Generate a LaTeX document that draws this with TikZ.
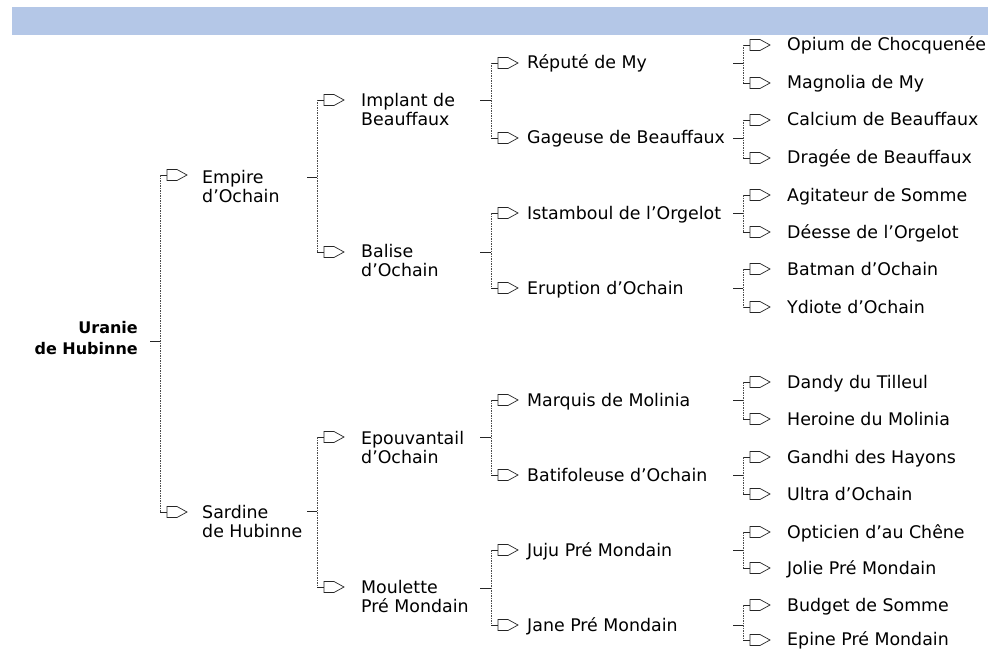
\documentclass[tikz,border=0pt]{standalone}
\usepackage{fontspec}
\setmainfont{DejaVu Sans}
\newcommand\twoln[2]{\begin{tabular}[t]{@{}l@{}}#1\\#2\end{tabular}}
\newcommand\twolnr[2]{\begin{tabular}[t]{@{}r@{}}#1\\#2\end{tabular}}
\begin{document}
\begin{tikzpicture}[x=1pt,y=-1pt,
  lbl/.style={inner sep=0pt, anchor=base west, font=\fontsize{17.4}{19}\selectfont},
  rootlbl/.style={inner sep=0pt, anchor=base east, font=\bfseries\fontsize{16}{21}\selectfont},
  tick/.style={line width=0.8pt, draw=black!85},
  vline/.style={line width=0.8pt, draw=black!70, dash pattern=on 1.5pt off 1pt},
  hicon/.pic={\draw[line width=0.7pt, black!85] (0,0) -- (7,0);
              \draw[line width=0.7pt, black!85, fill=white] (7,-5.5) -- (17,-5.5) -- (27,0) -- (17,5.5) -- (7,5.5) -- cycle;}
]
\useasboundingbox (0,0) rectangle (988,650);
\fill[white] (0,0) rectangle (988,650);
\fill[fill={rgb,255:red,180;green,199;blue,231}] (12,7) rectangle (988,35);

% ---------- root ----------
\node[rootlbl] (R) at (138,333) {\twolnr{Uranie}{de Hubinne}};
\coordinate (Rt) at (150,341);

% ---------- level 1 ----------
\coordinate (E1a) at (160,175); \pic at (E1a) {hicon};
\node[lbl] (E1) at (202,183) {\twoln{Empire}{d’Ochain}};
\coordinate (S1a) at (160,512); \pic at (S1a) {hicon};
\node[lbl] (S1) at (202,518) {\twoln{Sardine}{de Hubinne}};
\draw[tick] (Rt) -- (Rt -| E1a);
\draw[vline] (E1a) -- (S1a);
\coordinate (E1t) at (307,177);
\coordinate (S1t) at (307,511);

% ---------- level 2 ----------
\coordinate (I2a) at (317,100); \pic at (I2a) {hicon};
\node[lbl] (I2) at (361,107) {\twoln{Implant de}{Beauffaux}};
\coordinate (B2a) at (317,252); \pic at (B2a) {hicon};
\node[lbl] (B2) at (361,257) {\twoln{Balise}{d’Ochain}};
\coordinate (P2a) at (317,437); \pic at (P2a) {hicon};
\node[lbl] (P2) at (361,444) {\twoln{Epouvantail}{d’Ochain}};
\coordinate (M2a) at (317,587); \pic at (M2a) {hicon};
\node[lbl] (M2) at (361,593) {\twoln{Moulette}{Pré Mondain}};
\draw[tick] (E1t) -- (E1t -| I2a);
\draw[vline] (I2a) -- (B2a);
\draw[tick] (S1t) -- (S1t -| P2a);
\draw[vline] (P2a) -- (M2a);
\coordinate (I2t) at (480,100);
\coordinate (B2t) at (480,252);
\coordinate (P2t) at (480,437);
\coordinate (M2t) at (480,588);

% ---------- level 3 ----------
\coordinate (a3a) at (491,63);  \pic at (a3a) {hicon}; \node[lbl] (a3) at (527,69)  {Réputé de My};
\coordinate (b3a) at (491,138); \pic at (b3a) {hicon}; \node[lbl] (b3) at (527,144) {Gageuse de Beauffaux};
\coordinate (c3a) at (491,213); \pic at (c3a) {hicon}; \node[lbl] (c3) at (527,219) {Istamboul de l’Orgelot};
\coordinate (d3a) at (491,288); \pic at (d3a) {hicon}; \node[lbl] (d3) at (527,294) {Eruption d’Ochain};
\coordinate (e3a) at (491,400); \pic at (e3a) {hicon}; \node[lbl] (e3) at (527,406) {Marquis de Molinia};
\coordinate (f3a) at (491,475); \pic at (f3a) {hicon}; \node[lbl] (f3) at (527,481) {Batifoleuse d’Ochain};
\coordinate (g3a) at (491,550); \pic at (g3a) {hicon}; \node[lbl] (g3) at (527,556) {Juju Pré Mondain};
\coordinate (h3a) at (491,625); \pic at (h3a) {hicon}; \node[lbl] (h3) at (527,631) {Jane Pré Mondain};
\draw[tick] (I2t) -- (I2t -| a3a); \draw[vline] (a3a) -- (b3a);
\draw[tick] (B2t) -- (B2t -| c3a); \draw[vline] (c3a) -- (d3a);
\draw[tick] (P2t) -- (P2t -| e3a); \draw[vline] (e3a) -- (f3a);
\draw[tick] (M2t) -- (M2t -| g3a); \draw[vline] (g3a) -- (h3a);
\coordinate (a3t) at (733,63);
\coordinate (b3t) at (733,138);
\coordinate (c3t) at (733,213);
\coordinate (d3t) at (733,288);
\coordinate (e3t) at (733,400);
\coordinate (f3t) at (733,475);
\coordinate (g3t) at (733,550);
\coordinate (h3t) at (733,625);

% ---------- level 4 ----------
\coordinate (l1a)  at (743,45);  \pic at (l1a)  {hicon}; \node[lbl] (l1)  at (787,51)  {Opium de Chocquenée};
\coordinate (l2a)  at (743,83);  \pic at (l2a)  {hicon}; \node[lbl] (l2)  at (787,89)  {Magnolia de My};
\coordinate (l3a)  at (743,120); \pic at (l3a)  {hicon}; \node[lbl] (l3)  at (787,126) {Calcium de Beauffaux};
\coordinate (l4a)  at (743,158); \pic at (l4a)  {hicon}; \node[lbl] (l4)  at (787,164) {Dragée de Beauffaux};
\coordinate (l5a)  at (743,195); \pic at (l5a)  {hicon}; \node[lbl] (l5)  at (787,201) {Agitateur de Somme};
\coordinate (l6a)  at (743,232); \pic at (l6a)  {hicon}; \node[lbl] (l6)  at (787,238) {Déesse de l’Orgelot};
\coordinate (l7a)  at (743,269); \pic at (l7a)  {hicon}; \node[lbl] (l7)  at (787,275) {Batman d’Ochain};
\coordinate (l8a)  at (743,307); \pic at (l8a)  {hicon}; \node[lbl] (l8)  at (787,313) {Ydiote d’Ochain};
\coordinate (l9a)  at (743,382); \pic at (l9a)  {hicon}; \node[lbl] (l9)  at (787,388) {Dandy du Tilleul};
\coordinate (l10a) at (743,419); \pic at (l10a) {hicon}; \node[lbl] (l10) at (787,425) {Heroine du Molinia};
\coordinate (l11a) at (743,457); \pic at (l11a) {hicon}; \node[lbl] (l11) at (787,463) {Gandhi des Hayons};
\coordinate (l12a) at (743,494); \pic at (l12a) {hicon}; \node[lbl] (l12) at (787,500) {Ultra d’Ochain};
\coordinate (l13a) at (743,532); \pic at (l13a) {hicon}; \node[lbl] (l13) at (787,538) {Opticien d’au Chêne};
\coordinate (l14a) at (743,568); \pic at (l14a) {hicon}; \node[lbl] (l14) at (787,574) {Jolie Pré Mondain};
\coordinate (l15a) at (743,605); \pic at (l15a) {hicon}; \node[lbl] (l15) at (787,611) {Budget de Somme};
\coordinate (l16a) at (743,640); \pic at (l16a) {hicon}; \node[lbl] (l16) at (787,645) {Epine Pré Mondain};
\draw[tick] (a3t) -- (a3t -| l1a);  \draw[vline] (l1a)  -- (l2a);
\draw[tick] (b3t) -- (b3t -| l3a);  \draw[vline] (l3a)  -- (l4a);
\draw[tick] (c3t) -- (c3t -| l5a);  \draw[vline] (l5a)  -- (l6a);
\draw[tick] (d3t) -- (d3t -| l7a);  \draw[vline] (l7a)  -- (l8a);
\draw[tick] (e3t) -- (e3t -| l9a);  \draw[vline] (l9a)  -- (l10a);
\draw[tick] (f3t) -- (f3t -| l11a); \draw[vline] (l11a) -- (l12a);
\draw[tick] (g3t) -- (g3t -| l13a); \draw[vline] (l13a) -- (l14a);
\draw[tick] (h3t) -- (h3t -| l15a); \draw[vline] (l15a) -- (l16a);
\end{tikzpicture}
\end{document}
